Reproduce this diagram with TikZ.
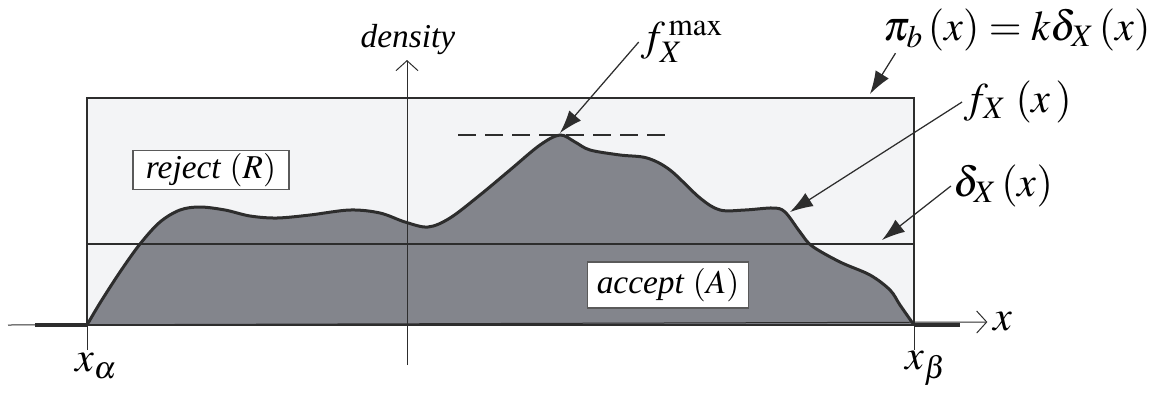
\documentclass[tikz,border=0pt]{standalone}
\usepackage{mathptmx}
\usepackage{fontspec}
\setmainfont{Liberation Serif}
\usetikzlibrary{arrows.meta,calc}
\definecolor{regionFill}{RGB}{243,244,246}
\definecolor{densityFill}{RGB}{131,133,140}
\definecolor{lineDark}{RGB}{45,45,45}
\definecolor{labelGray}{RGB}{90,90,90}
\tikzset{
  frame/.style={draw=lineDark, line width=0.4mm},
  densityline/.style={draw=lineDark, line width=0.6mm},
  axis/.style={-{Straight Barb[length=2mm,width=4.4mm]}, line width=0.2mm, draw=lineDark},
  support/.style={line width=0.8mm, draw=lineDark},
  tag/.style={draw=labelGray, line width=0.25mm, fill=white, inner sep=0pt,
    font=\fontsize{19}{21}\selectfont},
  formula/.style={inner sep=1pt, font=\fontsize{24}{28}\selectfont},
  pointer/.style={-{Latex[length=4.6mm,width=3.1mm]}, line width=0.25mm, draw=lineDark}
}

\begin{document}
\begin{tikzpicture}[x=0.2mm,y=-0.2mm]
  \useasboundingbox (0,0) rectangle (1149,394);
  % region under the envelope
  \fill[regionFill] (87,98) rectangle (914,325);
  % the density
  \def\densitypts{(87,325) (100,303) (120,272) (140,244) (160,222) (180,210) (200,207)
    (225,210) (250,216) (277,218) (310,215) (350,210) (380,213) (405,222)
    (428,227) (450,218) (480,195) (510,170) (540,145) (560,135) (575,142)
    (590,150) (620,155) (647,158) (670,170) (700,198) (720,210) (745,210)
    (773,208) (785,212) (800,232) (812,246) (840,262) (870,275) (890,290)
    (900,305) (914,325)}
  \fill[densityFill] plot[smooth, tension=0.55] coordinates \densitypts -- cycle;
  \draw[densityline] plot[smooth, tension=0.55] coordinates \densitypts;
  % envelope and proposal
  \draw[frame] (87,325) -- (87,98) -- (914,98) -- (914,325);
  \draw[frame] (87,244) -- (914,244);
  \draw[lineDark, line width=0.4mm, dash pattern=on 3.6mm off 1.8mm] (458,135) -- (672,135);
  % axes
  \coordinate (xa) at (87,325);
  \coordinate (xb) at (914,325);
  \coordinate (origin) at (407,365);
  \node (xlab) at (1003,322) {\fontsize{24}{28}\selectfont$x$};
  \node (ylab) at (408,40) {\fontsize{19}{21}\selectfont\textit{density}};
  \draw[frame] (xa) -- (xb);
  \draw[axis] (8,325) -- (xlab.west);
  \draw[axis] (origin) -- (407,60);
  \draw[support] (35,325) -- (xa);
  \draw[support] (xb) -- (960,325);
  \draw[line width=0.2mm, lineDark] (xa) -- ++(0,25);
  \draw[line width=0.2mm, lineDark] (xb) -- ++(0,25);
  \node[formula] (xalpha) at (96,366) {$x_\alpha$};
  \node[formula] (xbeta) at (926,368) {$x_\beta$};
  % region tags
  \node[tag, minimum width=3.12cm, minimum height=0.78cm] (reject) at (211,170) {\textit{reject} $(R)$};
  \node[tag, minimum width=3.22cm, minimum height=0.92cm] (accept) at (668,285) {\textit{accept} $(A)$};
  % pointers
  \coordinate (peak) at (560,133);
  \coordinate (envtop) at (870,94);
  \coordinate (shoulder) at (790,212);
  \coordinate (propline) at (882,240);
  \node[formula] (fmax) at (682,42) {$f_X^{\,\mathrm{max}}$};
  \node[formula] (pib) at (1017,30) {$\pi_b\left(x\right)=k\delta_X\left(x\right)$};
  \node[formula] (fx) at (1018,102) {$f_X\,\left(x\,\right)$};
  \node[formula] (deltax) at (1003,186) {$\delta_X\left(x\right)$};
  \draw[pointer] (fmax.west) -- (peak);
  \draw[pointer] ([shift={(14,0)}]pib.south west) -- (envtop);
  \draw[pointer] (fx.west) -- (shoulder);
  \draw[pointer] (deltax.west) -- (propline);
\end{tikzpicture}
\end{document}
